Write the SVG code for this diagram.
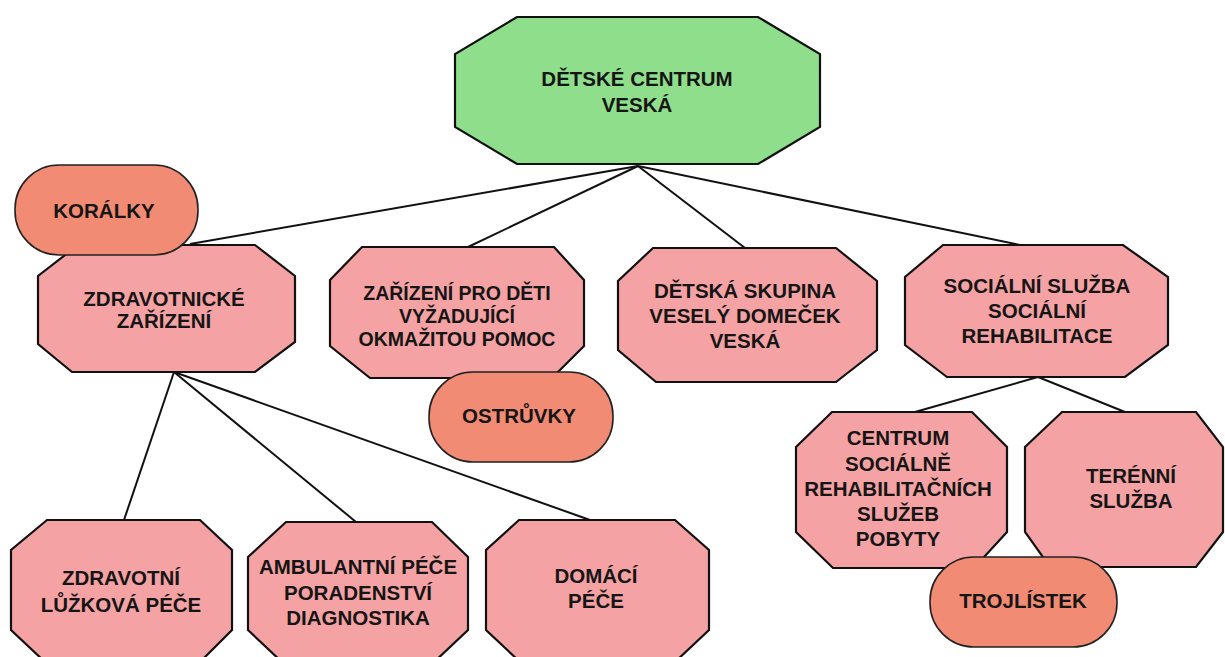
<svg xmlns="http://www.w3.org/2000/svg" width="1225" height="657" viewBox="0 0 1225 657">
<style>
.oct{fill:#f5a2a4;stroke:#111;stroke-width:2.2;stroke-linejoin:miter}
.root{fill:#8fde8c;stroke:#111;stroke-width:2.2}
.pill{fill:#f28b74;stroke:#222;stroke-width:1.6}
.t{font-family:"Liberation Sans",Arial,sans-serif;font-weight:bold;font-size:20.5px;fill:#151515;text-anchor:middle}
.s{font-size:19.5px}
.con{stroke:#111;stroke-width:2;fill:none}
</style>
<rect width="1225" height="657" fill="#ffffff"/>
<g id="connectors">
<line class="con" x1="638" y1="166" x2="190" y2="244"/>
<line class="con" x1="638" y1="166" x2="468" y2="247"/>
<line class="con" x1="638" y1="166" x2="745" y2="248"/>
<line class="con" x1="638" y1="166" x2="1020" y2="245"/>
<line class="con" x1="174" y1="372" x2="124" y2="520"/>
<line class="con" x1="174" y1="372" x2="356" y2="522"/>
<line class="con" x1="174" y1="372" x2="590" y2="520"/>
<line class="con" x1="1038" y1="377" x2="915" y2="412"/>
<line class="con" x1="1038" y1="377" x2="1125" y2="412"/>
</g>
<g id="root">
<polygon class="root" points="517,17 758,17 820,54 820,127 758,164 517,164 455,127 455,54"/>
<text class="t" x="637" y="86">DĚTSKÉ CENTRUM</text>
<text class="t" x="637" y="112">VESKÁ</text>
</g>
<g id="zdravotnicke">
<polygon class="oct" points="78,245 255,245 295,276 295,342 255,372 72,372 38,344 38,276"/>
<text class="t" x="164" y="306">ZDRAVOTNICKÉ</text>
<text class="t" x="164" y="328">ZAŘÍZENÍ</text>
</g>
<g id="zarizeni">
<polygon class="oct" points="362,247 554,247 584,280 584,346 552,378 370,378 330,346 330,280"/>
<text class="t s" x="457" y="300">ZAŘÍZENÍ PRO DĚTI</text>
<text class="t s" x="457" y="323">VYŽADUJÍCÍ</text>
<text class="t s" x="457" y="346">OKMAŽITOU POMOC</text>
</g>
<g id="detska">
<polygon class="oct" points="653,248 836,248 877,281 877,350 836,382 656,382 618,350 618,281"/>
<text class="t" x="745" y="298">DĚTSKÁ SKUPINA</text>
<text class="t" x="745" y="323">VESELÝ DOMEČEK</text>
<text class="t" x="745" y="348">VESKÁ</text>
</g>
<g id="socialni">
<polygon class="oct" points="943,245 1123,245 1168,277 1168,345 1125,377 947,377 905,345 905,277"/>
<text class="t" x="1037" y="293">SOCIÁLNÍ SLUŽBA</text>
<text class="t" x="1037" y="318">SOCIÁLNÍ</text>
<text class="t" x="1037" y="343">REHABILITACE</text>
</g>
<g id="centrum">
<polygon class="oct" points="832,412 972,412 1007,447 1007,532 974,568 833,568 796,532 796,447"/>
<text class="t" x="898" y="445">CENTRUM</text>
<text class="t" x="898" y="471">SOCIÁLNĚ</text>
<text class="t" x="898" y="496">REHABILITAČNÍCH</text>
<text class="t" x="898" y="521">SLUŽEB</text>
<text class="t" x="898" y="546">POBYTY</text>
</g>
<g id="terenni">
<polygon class="oct" points="1062,412 1196,412 1223,447 1223,532 1196,567 1050,567 1025,532 1025,447"/>
<text class="t" x="1131" y="483">TERÉNNÍ</text>
<text class="t" x="1131" y="508">SLUŽBA</text>
</g>
<g id="zdravotni">
<polygon class="oct" points="47,520 200,520 232,550 232,630 200,662 45,662 11,630 11,550"/>
<text class="t" x="121" y="585">ZDRAVOTNÍ</text>
<text class="t" x="121" y="612">LŮŽKOVÁ PÉČE</text>
</g>
<g id="ambulantni">
<polygon class="oct" points="286,522 432,522 468,557 468,630 432,664 284,664 248,630 248,557"/>
<text class="t" x="358" y="574">AMBULANTNÍ PÉČE</text>
<text class="t" x="358" y="600">PORADENSTVÍ</text>
<text class="t" x="358" y="625">DIAGNOSTIKA</text>
</g>
<g id="domaci">
<polygon class="oct" points="519,520 675,520 709,550 709,630 675,662 520,662 486,630 486,550"/>
<text class="t" x="596" y="583">DOMÁCÍ</text>
<text class="t" x="596" y="608">PÉČE</text>
</g>
<g id="koralky">
<rect class="pill" x="15" y="165" width="183" height="90" rx="44" ry="44"/>
<text class="t" x="104" y="218">KORÁLKY</text>
</g>
<g id="ostruvky">
<rect class="pill" x="429" y="372" width="184" height="90" rx="44" ry="44"/>
<text class="t" x="519" y="423">OSTRŮVKY</text>
</g>
<g id="trojlistek">
<rect class="pill" x="930" y="557" width="187" height="90" rx="44" ry="44"/>
<text class="t" x="1023" y="608">TROJLÍSTEK</text>
</g>
</svg>
